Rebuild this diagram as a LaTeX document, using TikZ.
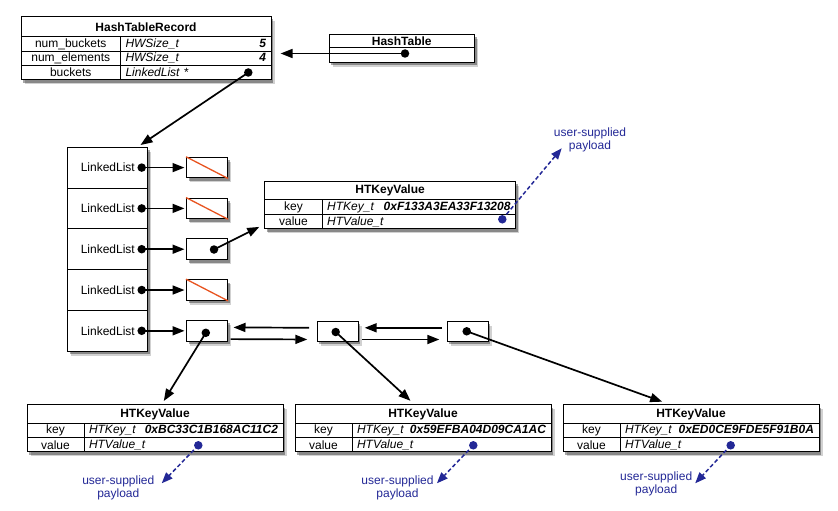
\documentclass[tikz,border=0pt]{standalone}
\usepackage{fontspec}
\setmainfont{Liberation Sans}
\usetikzlibrary{arrows.meta, calc, positioning, shadows}

\definecolor{payloadblue}{RGB}{35,40,150}
\definecolor{nullred}{RGB}{232,84,32}

\begin{document}
\begin{tikzpicture}[x=1pt, y=-1pt, font=\fontsize{12}{14}\selectfont,
  record/.style={draw, line width=1pt, fill=white, inner sep=0pt, anchor=north west,
    drop shadow={shadow xshift=3.5pt, shadow yshift=-4.5pt, opacity=0.18, fill=black},
    drop shadow={shadow xshift=2pt, shadow yshift=-3pt, opacity=0.35, fill=black}},
  cell/.style={draw, line width=1pt, inner sep=0pt, anchor=north west, minimum height=#1},
  cell/.default=14.2pt,
  typecell/.style={cell, inner xsep=5pt, text width=#1, font=\fontsize{12}{14}\selectfont\itshape},
  headcell/.style={font=\fontsize{12}{14}\selectfont\bfseries},
  ptr/.style={circle, fill=black, inner sep=0pt, minimum size=8.5pt},
  payptr/.style={ptr, fill=payloadblue},
  link/.style={line width=1.7pt, -{Triangle[length=12pt, width=9pt]}},
  payload/.style={line width=1.5pt, payloadblue, dash pattern=on 4pt off 2.5pt,
    -{Triangle[length=11pt, width=8.5pt]}},
  paylabel/.style={align=center, text=payloadblue, font=\fontsize{12}{13.3}\selectfont}]
\useasboundingbox (0,0) rectangle (838,511);

% HashTableRecord
\node[record, minimum width=250pt, minimum height=63.1pt] (htrec) at (20.5,16) {};
\node[cell=20.5pt, minimum width=250pt, headcell] (htrec-head) at (20.5,16) {HashTableRecord};
\node[cell, minimum width=99.5pt] (nb-name) at (20.5,36.5) {num\_buckets};
\node[typecell=140.5pt] (nb-type) at (120,36.5) {HWSize\_t\hfill\textbf{5}\hspace*{7pt}};
\node[cell, minimum width=99.5pt] (ne-name) at (20.5,50.7) {num\_elements};
\node[typecell=140.5pt] (ne-type) at (120,50.7) {HWSize\_t\hfill\textbf{4}\hspace*{7pt}};
\node[cell, minimum width=99.5pt] (bk-name) at (20.5,64.9) {buckets};
\node[typecell=140.5pt] (bk-type) at (120,64.9) {LinkedList *};
\node[ptr] (buckets-ptr) at (248.3,72.5) {};

% HashTable
\node[record, minimum width=145.5pt, minimum height=27.7pt] (ht) at (328.5,34) {};
\node[cell=13pt, minimum width=145.5pt, headcell] (ht-head) at (328.5,34) {HashTable};
\node[cell=14.7pt, minimum width=145.5pt] (ht-body) at (328.5,47) {};
\node[ptr] (ht-ptr) at (405,53.5) {};
\draw[link] (ht-ptr.center) -- ($(htrec.east |- ht-ptr)+(9,0)$);

% bucket array and list heads
\node[record, minimum width=80pt, minimum height=204pt] (arr) at (67.3,146.7) {};
\foreach \i in {1,...,5} {
  \node[cell=40.8pt, minimum width=80pt] (ll\i) at (67.3,{146.7+40.8*(\i-1)}) {LinkedList};
  \node[ptr] (ll\i-ptr) at ($(ll\i.east)+(-6.6,0)$) {};
  \node[record, minimum width=41pt, minimum height=20.7pt, anchor=west] (slot\i) at ($(ll\i.east)+(37.7,0)$) {};
  \draw[link, shorten >=1.5pt] (ll\i-ptr.center) -- (slot\i.west);
}
\foreach \i in {1,2,4}
  \draw[nullred, line width=1.3pt] (slot\i.north west) -- (slot\i.south east);
\node[ptr] (slot3-ptr) at ($(slot3.center)+(7,0.3)$) {};
\node[ptr] (slot5-ptr) at ($(slot5.center)+(-1.2,2)$) {};
\draw[link] (buckets-ptr.center) -- ([xshift=32.7pt, yshift=1.7pt]arr.north);

% chain nodes
\node[record, minimum width=41pt, minimum height=20pt] (chainB) at (316.7,320.7) {};
\node[record, minimum width=41pt, minimum height=20pt] (chainC) at (446.7,320.7) {};
\node[ptr] (chainB-ptr) at (335.7,332) {};
\node[ptr] (chainC-ptr) at (466.7,331.3) {};
\draw[link, shorten <=7.5pt, shorten >=5.5pt] ([yshift=3.4pt]chainB.west) -- ([yshift=3.4pt]slot5.east);
\draw[link, shorten <=2.7pt, shorten >=9.4pt] ([yshift=-8.3pt]slot5.east) -- ([yshift=-8.3pt]chainB.west);
\draw[link, shorten <=5pt, shorten >=6pt] ([yshift=3.4pt]chainC.west) -- ([yshift=3.4pt]chainB.east);
\draw[link, shorten <=3.7pt, shorten >=7.4pt] ([yshift=-8.3pt]chainB.east) -- ([yshift=-8.3pt]chainC.west);

% HTKeyValue of bucket 2
\node[record, minimum width=250.7pt, minimum height=47.7pt] (kv0) at (264.3,180.7) {};
\node[cell=18.6pt, minimum width=250.7pt, headcell] (kv0-head) at (264.3,180.7) {HTKeyValue};
\node[cell=14.6pt, minimum width=57.4pt] (kv0-key) at (264.3,199.3) {key};
\node[typecell=183.3pt, minimum height=14.6pt] (kv0-keyt) at (321.7,199.3) {HTKey\_t\hfill\textbf{0xF133A3EA33F13208}};
\node[cell=14.5pt, minimum width=57.4pt] (kv0-val) at (264.3,213.9) {value};
\node[typecell=183.3pt, minimum height=14.5pt] (kv0-valt) at (321.7,213.9) {HTValue\_t};
\node[payptr] (kv0-ptr) at (502.3,219.3) {};
\coordinate (pay0) at (561.7,148.3);
\node[paylabel] (pay0-label) at (590,140) {user-supplied\\payload};
\draw[payload] (kv0-ptr.center) -- (pay0);
\draw[link] (slot3-ptr.center) -- ([xshift=-5pt, yshift=2.5pt]kv0.south west);

% HTKeyValues of bucket 4
\foreach \n/\x/\hex/\dx/\tx/\lx/\ly in {1/26.5/0xBC33C1B168AC11C2/171.8/135.2/91.8/487.7,
    2/294.5/0x59EFBA04D09CA1AC/178.8/142.4/103/487.7,
    3/562.5/0xED0CE9FDE5F91B0A/168.2/132.7/93.7/483.7} {
  \node[record, minimum width=256pt, minimum height=47pt] (kv\n) at (\x,404.3) {};
  \node[cell=19pt, minimum width=256pt, headcell] (kv\n-head) at (\x,404.3) {HTKeyValue};
  \node[cell=14pt, minimum width=57pt] (kv\n-key) at (\x,423.3) {key};
  \node[typecell=189pt, minimum height=14pt] (kv\n-keyt) at ({\x+57},423.3) {HTKey\_t\hfill\textbf{\hex}};
  \node[cell=14pt, minimum width=57pt] (kv\n-val) at (\x,437.3) {value};
  \node[typecell=189pt, minimum height=14pt] (kv\n-valt) at ({\x+57},437.3) {HTValue\_t};
  \node[payptr] (kv\n-ptr) at ({\x+\dx},445.3) {};
  \coordinate (pay\n) at ({\x+\tx},483.3);
  \node[paylabel] (pay\n-label) at ({\x+\lx},\ly) {user-supplied\\payload};
  \draw[payload] (kv\n-ptr.center) -- (pay\n);
}
\draw[link] (slot5-ptr.center) -- ([xshift=8.8pt, yshift=3.3pt]kv1.north);
\draw[link] (chainB-ptr.center) -- ([xshift=-12.5pt, yshift=3.5pt]kv2.north);
\draw[link] (chainC-ptr.center) -- ([xshift=-28.8pt, yshift=2.6pt]kv3.north);
\end{tikzpicture}
\end{document}
